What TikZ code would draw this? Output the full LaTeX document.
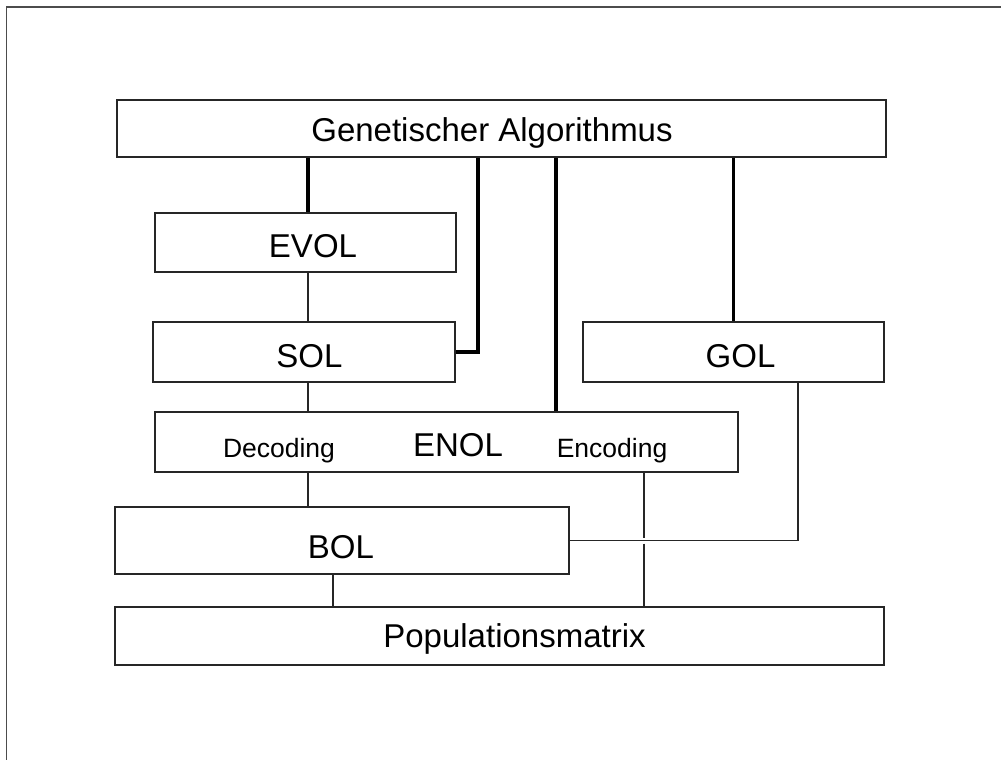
\documentclass[tikz,border=0pt]{standalone}
\usepackage{fontspec}
\setmainfont{Liberation Sans}
\usetikzlibrary{calc}
\tikzset{
      box/.style = { draw, line width=1.6pt, color=black!85, inner sep=0pt },
    label/.style = { anchor=base, inner sep=0pt, font=\fontsize{33}{40}\selectfont },
    small/.style = { anchor=base, inner sep=0pt, font=\fontsize{26.5}{32}\selectfont },
     thin/.style = { line width=1.5pt, color=black!85 },
    thick/.style = { line width=3.2pt, color=black },
}

\begin{document}
\begin{tikzpicture}[x=1pt, y=-1pt]
  \useasboundingbox (0,0) rectangle (1001,760);
  % page frame
  \draw [line width=1.8pt, color=black!70] (6.5,760) -- (6.5,7) -- (1001,7);

  % boxes
  \node[box, minimum width=769pt, minimum height=57pt] (ga)  at (501.5,128.5) {};
  \node[box, minimum width=301pt, minimum height=59pt] (evol) at (305.5,242.5) {};
  \node[box, minimum width=302pt, minimum height=60pt] (sol)  at (304,352) {};
  \node[box, minimum width=301pt, minimum height=60pt] (gol)  at (733.5,352) {};
  \node[box, minimum width=583pt, minimum height=60pt] (enol) at (446.5,442) {};
  \node[box, minimum width=454pt, minimum height=67pt] (bol)  at (342,540.5) {};
  \node[box, minimum width=769pt, minimum height=58pt] (pop)  at (499.5,636) {};

  % texts
  \node[label] (gatext)   at (492,141)   {Genetischer Algorithmus};
  \node[label] (evoltext) at (313,257)   {EVOL};
  \node[label] (soltext)  at (309.5,367) {SOL};
  \node[label] (goltext)  at (740.5,367) {GOL};
  \node[label] (enoltext) at (458,456)   {ENOL};
  \node[small] (dec)      at (279,457)   {Decoding};
  \node[small] (enc)      at (612,457)   {Encoding};
  \node[label] (boltext)  at (341,558)   {BOL};
  \node[label] (poptext)  at (514.5,647) {Populationsmatrix};

  % columns of the connectors
  \coordinate (c1) at (308,0);
  \coordinate (c2) at (478,0);
  \coordinate (c3) at (556,0);
  \coordinate (c4) at (333,0);
  \coordinate (c5) at (644,0);
  \coordinate (c6) at (798,0);

  \draw [thick] (ga.south -| c1) -- (evol.north -| c1);
  \draw [thick] (ga.south -| c2) |- (sol.east);
  \draw [thick] (ga.south -| c3) -- (enol.north -| c3);
  \draw [thick] (ga.south -| gol.north) -- (gol.north);

  \draw [thin] (evol.south -| c1) -- (sol.north -| c1);
  \draw [thin] (sol.south -| c1) -- (enol.north -| c1);
  \draw [thin] (enol.south -| c1) -- (bol.north -| c1);
  \draw [thin] (bol.south -| c4) -- (pop.north -| c4);
  \draw [thin] (gol.south -| c6) |- (bol.east);
  % encoding line, broken where it crosses
  \draw [thin] (enol.south -| c5) -- ($(bol.east -| c5) + (0,-3)$);
  \draw [thin] ($(bol.east -| c5) + (0,3)$) -- (pop.north -| c5);
\end{tikzpicture}
\end{document}
